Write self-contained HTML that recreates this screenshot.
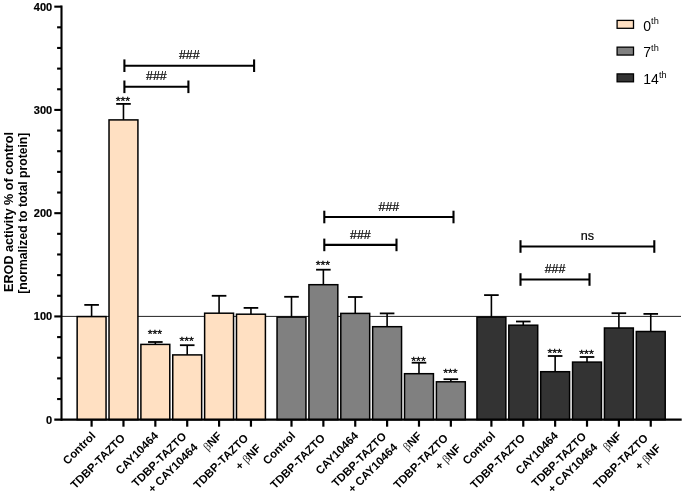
<!DOCTYPE html>
<html><head><meta charset="utf-8"><title>EROD activity</title>
<style>
html,body{margin:0;padding:0;background:#fff;}
svg{display:block;will-change:transform;}
text{font-family:"Liberation Sans",sans-serif;fill:#000;}
.tk{font-size:11px;font-weight:bold;stroke:#000;stroke-width:0.2px;}
.xl{font-size:11.4px;font-weight:bold;}
.yt{font-size:12.64px;font-weight:bold;}
.an{font-size:13px;stroke:#000;stroke-width:0.2px;}
.st{font-size:12px;stroke:#000;stroke-width:0.3px;}
.lg{font-size:14px;}
.beta{font-family:"Liberation Serif",serif;font-weight:normal;fill:#222;}
</style></head><body>
<svg width="685" height="494" viewBox="0 0 685 494">
<rect width="685" height="494" fill="#fff"/>
<line x1="61.5" y1="316.4" x2="681" y2="316.4" stroke="#222" stroke-width="1"/>
<line x1="91.60" y1="316.60" x2="91.60" y2="304.90" stroke="#000" stroke-width="1.6"/>
<line x1="84.30" y1="304.90" x2="98.90" y2="304.90" stroke="#000" stroke-width="1.8"/>
<rect x="77.15" y="316.60" width="28.90" height="103.10" fill="#FFE0C2" stroke="#000" stroke-width="1.5"/>
<line x1="123.47" y1="119.90" x2="123.47" y2="103.90" stroke="#000" stroke-width="1.6"/>
<line x1="116.17" y1="103.90" x2="130.77" y2="103.90" stroke="#000" stroke-width="1.8"/>
<rect x="109.02" y="119.90" width="28.90" height="299.80" fill="#FFE0C2" stroke="#000" stroke-width="1.5"/>
<line x1="155.34" y1="344.40" x2="155.34" y2="342.00" stroke="#000" stroke-width="1.6"/>
<line x1="148.04" y1="342.00" x2="162.64" y2="342.00" stroke="#000" stroke-width="1.8"/>
<rect x="140.89" y="344.40" width="28.90" height="75.30" fill="#FFE0C2" stroke="#000" stroke-width="1.5"/>
<line x1="187.21" y1="354.90" x2="187.21" y2="345.20" stroke="#000" stroke-width="1.6"/>
<line x1="179.91" y1="345.20" x2="194.51" y2="345.20" stroke="#000" stroke-width="1.8"/>
<rect x="172.76" y="354.90" width="28.90" height="64.80" fill="#FFE0C2" stroke="#000" stroke-width="1.5"/>
<line x1="219.08" y1="313.20" x2="219.08" y2="295.80" stroke="#000" stroke-width="1.6"/>
<line x1="211.78" y1="295.80" x2="226.38" y2="295.80" stroke="#000" stroke-width="1.8"/>
<rect x="204.63" y="313.20" width="28.90" height="106.50" fill="#FFE0C2" stroke="#000" stroke-width="1.5"/>
<line x1="250.95" y1="314.20" x2="250.95" y2="307.90" stroke="#000" stroke-width="1.6"/>
<line x1="243.65" y1="307.90" x2="258.25" y2="307.90" stroke="#000" stroke-width="1.8"/>
<rect x="236.50" y="314.20" width="28.90" height="105.50" fill="#FFE0C2" stroke="#000" stroke-width="1.5"/>
<line x1="291.50" y1="317.10" x2="291.50" y2="296.80" stroke="#000" stroke-width="1.6"/>
<line x1="284.20" y1="296.80" x2="298.80" y2="296.80" stroke="#000" stroke-width="1.8"/>
<rect x="277.05" y="317.10" width="28.90" height="102.60" fill="#808080" stroke="#000" stroke-width="1.5"/>
<line x1="323.37" y1="284.70" x2="323.37" y2="269.70" stroke="#000" stroke-width="1.6"/>
<line x1="316.07" y1="269.70" x2="330.67" y2="269.70" stroke="#000" stroke-width="1.8"/>
<rect x="308.92" y="284.70" width="28.90" height="135.00" fill="#808080" stroke="#000" stroke-width="1.5"/>
<line x1="355.24" y1="313.40" x2="355.24" y2="297.00" stroke="#000" stroke-width="1.6"/>
<line x1="347.94" y1="297.00" x2="362.54" y2="297.00" stroke="#000" stroke-width="1.8"/>
<rect x="340.79" y="313.40" width="28.90" height="106.30" fill="#808080" stroke="#000" stroke-width="1.5"/>
<line x1="387.11" y1="326.70" x2="387.11" y2="313.40" stroke="#000" stroke-width="1.6"/>
<line x1="379.81" y1="313.40" x2="394.41" y2="313.40" stroke="#000" stroke-width="1.8"/>
<rect x="372.66" y="326.70" width="28.90" height="93.00" fill="#808080" stroke="#000" stroke-width="1.5"/>
<line x1="418.98" y1="373.70" x2="418.98" y2="362.70" stroke="#000" stroke-width="1.6"/>
<line x1="411.68" y1="362.70" x2="426.28" y2="362.70" stroke="#000" stroke-width="1.8"/>
<rect x="404.53" y="373.70" width="28.90" height="46.00" fill="#808080" stroke="#000" stroke-width="1.5"/>
<line x1="450.85" y1="381.80" x2="450.85" y2="379.20" stroke="#000" stroke-width="1.6"/>
<line x1="443.55" y1="379.20" x2="458.15" y2="379.20" stroke="#000" stroke-width="1.8"/>
<rect x="436.40" y="381.80" width="28.90" height="37.90" fill="#808080" stroke="#000" stroke-width="1.5"/>
<line x1="491.40" y1="317.10" x2="491.40" y2="295.10" stroke="#000" stroke-width="1.6"/>
<line x1="484.10" y1="295.10" x2="498.70" y2="295.10" stroke="#000" stroke-width="1.8"/>
<rect x="476.95" y="317.10" width="28.90" height="102.60" fill="#333333" stroke="#000" stroke-width="1.5"/>
<line x1="523.27" y1="325.20" x2="523.27" y2="321.50" stroke="#000" stroke-width="1.6"/>
<line x1="515.97" y1="321.50" x2="530.57" y2="321.50" stroke="#000" stroke-width="1.8"/>
<rect x="508.82" y="325.20" width="28.90" height="94.50" fill="#333333" stroke="#000" stroke-width="1.5"/>
<line x1="555.14" y1="371.70" x2="555.14" y2="356.00" stroke="#000" stroke-width="1.6"/>
<line x1="547.84" y1="356.00" x2="562.44" y2="356.00" stroke="#000" stroke-width="1.8"/>
<rect x="540.69" y="371.70" width="28.90" height="48.00" fill="#333333" stroke="#000" stroke-width="1.5"/>
<line x1="587.01" y1="362.10" x2="587.01" y2="357.00" stroke="#000" stroke-width="1.6"/>
<line x1="579.71" y1="357.00" x2="594.31" y2="357.00" stroke="#000" stroke-width="1.8"/>
<rect x="572.56" y="362.10" width="28.90" height="57.60" fill="#333333" stroke="#000" stroke-width="1.5"/>
<line x1="618.88" y1="328.00" x2="618.88" y2="313.20" stroke="#000" stroke-width="1.6"/>
<line x1="611.58" y1="313.20" x2="626.18" y2="313.20" stroke="#000" stroke-width="1.8"/>
<rect x="604.43" y="328.00" width="28.90" height="91.70" fill="#333333" stroke="#000" stroke-width="1.5"/>
<line x1="650.75" y1="331.50" x2="650.75" y2="313.90" stroke="#000" stroke-width="1.6"/>
<line x1="643.45" y1="313.90" x2="658.05" y2="313.90" stroke="#000" stroke-width="1.8"/>
<rect x="636.30" y="331.50" width="28.90" height="88.20" fill="#333333" stroke="#000" stroke-width="1.5"/>
<line x1="61.5" y1="5.6" x2="61.5" y2="420.8" stroke="#000" stroke-width="2.1"/>
<line x1="54.3" y1="419.7" x2="681.7" y2="419.7" stroke="#000" stroke-width="2.2"/>
<text x="52.2" y="423.70" class="tk" text-anchor="end">0</text>
<line x1="57.1" y1="399.05" x2="61.5" y2="399.05" stroke="#000" stroke-width="2.1"/>
<line x1="57.1" y1="378.40" x2="61.5" y2="378.40" stroke="#000" stroke-width="2.1"/>
<line x1="57.1" y1="357.74" x2="61.5" y2="357.74" stroke="#000" stroke-width="2.1"/>
<line x1="57.1" y1="337.09" x2="61.5" y2="337.09" stroke="#000" stroke-width="2.1"/>
<line x1="54.3" y1="316.44" x2="61.5" y2="316.44" stroke="#000" stroke-width="2.1"/>
<text x="52.2" y="320.44" class="tk" text-anchor="end">100</text>
<line x1="57.1" y1="295.79" x2="61.5" y2="295.79" stroke="#000" stroke-width="2.1"/>
<line x1="57.1" y1="275.14" x2="61.5" y2="275.14" stroke="#000" stroke-width="2.1"/>
<line x1="57.1" y1="254.48" x2="61.5" y2="254.48" stroke="#000" stroke-width="2.1"/>
<line x1="57.1" y1="233.83" x2="61.5" y2="233.83" stroke="#000" stroke-width="2.1"/>
<line x1="54.3" y1="213.18" x2="61.5" y2="213.18" stroke="#000" stroke-width="2.1"/>
<text x="52.2" y="217.18" class="tk" text-anchor="end">200</text>
<line x1="57.1" y1="192.53" x2="61.5" y2="192.53" stroke="#000" stroke-width="2.1"/>
<line x1="57.1" y1="171.88" x2="61.5" y2="171.88" stroke="#000" stroke-width="2.1"/>
<line x1="57.1" y1="151.22" x2="61.5" y2="151.22" stroke="#000" stroke-width="2.1"/>
<line x1="57.1" y1="130.57" x2="61.5" y2="130.57" stroke="#000" stroke-width="2.1"/>
<line x1="54.3" y1="109.92" x2="61.5" y2="109.92" stroke="#000" stroke-width="2.1"/>
<text x="52.2" y="113.92" class="tk" text-anchor="end">300</text>
<line x1="57.1" y1="89.27" x2="61.5" y2="89.27" stroke="#000" stroke-width="2.1"/>
<line x1="57.1" y1="68.62" x2="61.5" y2="68.62" stroke="#000" stroke-width="2.1"/>
<line x1="57.1" y1="47.96" x2="61.5" y2="47.96" stroke="#000" stroke-width="2.1"/>
<line x1="57.1" y1="27.31" x2="61.5" y2="27.31" stroke="#000" stroke-width="2.1"/>
<line x1="54.3" y1="6.66" x2="61.5" y2="6.66" stroke="#000" stroke-width="2.1"/>
<text x="52.2" y="10.66" class="tk" text-anchor="end">400</text>
<line x1="91.60" y1="419.7" x2="91.60" y2="426.7" stroke="#000" stroke-width="2.2"/>
<line x1="123.47" y1="419.7" x2="123.47" y2="426.7" stroke="#000" stroke-width="2.2"/>
<line x1="155.34" y1="419.7" x2="155.34" y2="426.7" stroke="#000" stroke-width="2.2"/>
<line x1="187.21" y1="419.7" x2="187.21" y2="426.7" stroke="#000" stroke-width="2.2"/>
<line x1="219.08" y1="419.7" x2="219.08" y2="426.7" stroke="#000" stroke-width="2.2"/>
<line x1="250.95" y1="419.7" x2="250.95" y2="426.7" stroke="#000" stroke-width="2.2"/>
<line x1="291.50" y1="419.7" x2="291.50" y2="426.7" stroke="#000" stroke-width="2.2"/>
<line x1="323.37" y1="419.7" x2="323.37" y2="426.7" stroke="#000" stroke-width="2.2"/>
<line x1="355.24" y1="419.7" x2="355.24" y2="426.7" stroke="#000" stroke-width="2.2"/>
<line x1="387.11" y1="419.7" x2="387.11" y2="426.7" stroke="#000" stroke-width="2.2"/>
<line x1="418.98" y1="419.7" x2="418.98" y2="426.7" stroke="#000" stroke-width="2.2"/>
<line x1="450.85" y1="419.7" x2="450.85" y2="426.7" stroke="#000" stroke-width="2.2"/>
<line x1="491.40" y1="419.7" x2="491.40" y2="426.7" stroke="#000" stroke-width="2.2"/>
<line x1="523.27" y1="419.7" x2="523.27" y2="426.7" stroke="#000" stroke-width="2.2"/>
<line x1="555.14" y1="419.7" x2="555.14" y2="426.7" stroke="#000" stroke-width="2.2"/>
<line x1="587.01" y1="419.7" x2="587.01" y2="426.7" stroke="#000" stroke-width="2.2"/>
<line x1="618.88" y1="419.7" x2="618.88" y2="426.7" stroke="#000" stroke-width="2.2"/>
<line x1="650.75" y1="419.7" x2="650.75" y2="426.7" stroke="#000" stroke-width="2.2"/>
<text transform="translate(96.20,436.50) rotate(-45)" class="xl" text-anchor="end">Control</text>
<text transform="translate(125.87,438.80) rotate(-45)" class="xl" text-anchor="end">TDBP-TAZTO</text>
<text transform="translate(159.04,436.60) rotate(-45)" class="xl" text-anchor="end">CAY10464</text>
<text transform="translate(187.21,437.00) rotate(-45)" class="xl" text-anchor="end">TDBP-TAZTO</text>
<text transform="translate(198.41,448.00) rotate(-45)" class="xl" text-anchor="end">+ CAY10464</text>
<text transform="translate(222.48,436.50) rotate(-45)" class="xl" text-anchor="end"><tspan class="beta">β</tspan>NF</text>
<text transform="translate(248.95,438.70) rotate(-45)" class="xl" text-anchor="end">TDBP-TAZTO</text>
<text transform="translate(261.75,448.90) rotate(-45)" class="xl" text-anchor="end">+ <tspan class="beta">β</tspan>NF</text>
<text transform="translate(296.10,436.50) rotate(-45)" class="xl" text-anchor="end">Control</text>
<text transform="translate(325.77,438.80) rotate(-45)" class="xl" text-anchor="end">TDBP-TAZTO</text>
<text transform="translate(358.94,436.60) rotate(-45)" class="xl" text-anchor="end">CAY10464</text>
<text transform="translate(387.11,437.00) rotate(-45)" class="xl" text-anchor="end">TDBP-TAZTO</text>
<text transform="translate(398.31,448.00) rotate(-45)" class="xl" text-anchor="end">+ CAY10464</text>
<text transform="translate(422.38,436.50) rotate(-45)" class="xl" text-anchor="end"><tspan class="beta">β</tspan>NF</text>
<text transform="translate(448.85,438.70) rotate(-45)" class="xl" text-anchor="end">TDBP-TAZTO</text>
<text transform="translate(461.65,448.90) rotate(-45)" class="xl" text-anchor="end">+ <tspan class="beta">β</tspan>NF</text>
<text transform="translate(496.00,436.50) rotate(-45)" class="xl" text-anchor="end">Control</text>
<text transform="translate(525.67,438.80) rotate(-45)" class="xl" text-anchor="end">TDBP-TAZTO</text>
<text transform="translate(558.84,436.60) rotate(-45)" class="xl" text-anchor="end">CAY10464</text>
<text transform="translate(587.01,437.00) rotate(-45)" class="xl" text-anchor="end">TDBP-TAZTO</text>
<text transform="translate(598.21,448.00) rotate(-45)" class="xl" text-anchor="end">+ CAY10464</text>
<text transform="translate(622.28,436.50) rotate(-45)" class="xl" text-anchor="end"><tspan class="beta">β</tspan>NF</text>
<text transform="translate(648.75,438.70) rotate(-45)" class="xl" text-anchor="end">TDBP-TAZTO</text>
<text transform="translate(661.55,448.90) rotate(-45)" class="xl" text-anchor="end">+ <tspan class="beta">β</tspan>NF</text>
<g transform="translate(12.75,212.0) rotate(-90)"><text class="yt" text-anchor="middle" x="0" y="0">EROD activity % of control</text><text class="yt" style="font-size:12.2px" text-anchor="middle" x="-1.2" y="14.55">[normalized to total protein]</text></g>
<line x1="124.4" y1="65.7" x2="254.1" y2="65.7" stroke="#000" stroke-width="2.1"/>
<line x1="124.4" y1="59.400000000000006" x2="124.4" y2="72.0" stroke="#000" stroke-width="2.1"/>
<line x1="254.1" y1="59.400000000000006" x2="254.1" y2="72.0" stroke="#000" stroke-width="2.1"/>
<text x="189.25" y="59.0" class="an" style="font-size:12.4px" text-anchor="middle">###</text>
<line x1="124.4" y1="86.8" x2="188.4" y2="86.8" stroke="#000" stroke-width="2.1"/>
<line x1="124.4" y1="80.5" x2="124.4" y2="93.1" stroke="#000" stroke-width="2.1"/>
<line x1="188.4" y1="80.5" x2="188.4" y2="93.1" stroke="#000" stroke-width="2.1"/>
<text x="156.40" y="80.2" class="an" style="font-size:12.4px" text-anchor="middle">###</text>
<line x1="324.3" y1="217.0" x2="453.5" y2="217.0" stroke="#000" stroke-width="2.1"/>
<line x1="324.3" y1="210.7" x2="324.3" y2="223.3" stroke="#000" stroke-width="2.1"/>
<line x1="453.5" y1="210.7" x2="453.5" y2="223.3" stroke="#000" stroke-width="2.1"/>
<text x="388.90" y="210.9" class="an" style="font-size:12.4px" text-anchor="middle">###</text>
<line x1="324.3" y1="244.9" x2="396.5" y2="244.9" stroke="#000" stroke-width="2.1"/>
<line x1="324.3" y1="238.6" x2="324.3" y2="251.20000000000002" stroke="#000" stroke-width="2.1"/>
<line x1="396.5" y1="238.6" x2="396.5" y2="251.20000000000002" stroke="#000" stroke-width="2.1"/>
<text x="360.40" y="239.0" class="an" style="font-size:12.4px" text-anchor="middle">###</text>
<line x1="520.5" y1="246.5" x2="654.3" y2="246.5" stroke="#000" stroke-width="2.1"/>
<line x1="520.5" y1="240.2" x2="520.5" y2="252.8" stroke="#000" stroke-width="2.1"/>
<line x1="654.3" y1="240.2" x2="654.3" y2="252.8" stroke="#000" stroke-width="2.1"/>
<text x="587.40" y="239.7" class="an" style="font-size:12.6px" text-anchor="middle">ns</text>
<line x1="520.5" y1="279.5" x2="589.5" y2="279.5" stroke="#000" stroke-width="2.1"/>
<line x1="520.5" y1="273.2" x2="520.5" y2="285.8" stroke="#000" stroke-width="2.1"/>
<line x1="589.5" y1="273.2" x2="589.5" y2="285.8" stroke="#000" stroke-width="2.1"/>
<text x="555.00" y="273.4" class="an" style="font-size:12.4px" text-anchor="middle">###</text>
<text transform="translate(122.97,105.00) scale(1.03,0.86)" class="st" text-anchor="middle">***</text>
<text transform="translate(154.84,337.80) scale(1.03,0.86)" class="st" text-anchor="middle">***</text>
<text transform="translate(186.71,344.90) scale(1.03,0.86)" class="st" text-anchor="middle">***</text>
<text transform="translate(322.87,268.90) scale(1.03,0.86)" class="st" text-anchor="middle">***</text>
<text transform="translate(418.48,364.50) scale(1.03,0.86)" class="st" text-anchor="middle">***</text>
<text transform="translate(450.35,376.60) scale(1.03,0.86)" class="st" text-anchor="middle">***</text>
<text transform="translate(554.64,356.90) scale(1.03,0.86)" class="st" text-anchor="middle">***</text>
<text transform="translate(586.51,357.70) scale(1.03,0.86)" class="st" text-anchor="middle">***</text>
<rect x="617.1" y="20.40" width="16.4" height="7.9" fill="#FFE0C2" stroke="#000" stroke-width="1.3"/>
<text x="643.3" y="30.60" class="lg">0<tspan dy="-6.4" font-size="9.2">th</tspan></text>
<rect x="617.1" y="47.15" width="16.4" height="7.9" fill="#808080" stroke="#000" stroke-width="1.3"/>
<text x="643.3" y="57.35" class="lg">7<tspan dy="-6.4" font-size="9.2">th</tspan></text>
<rect x="617.1" y="73.90" width="16.4" height="7.9" fill="#333333" stroke="#000" stroke-width="1.3"/>
<text x="643.3" y="84.10" class="lg">14<tspan dy="-6.4" font-size="9.2">th</tspan></text>
</svg>
</body></html>
